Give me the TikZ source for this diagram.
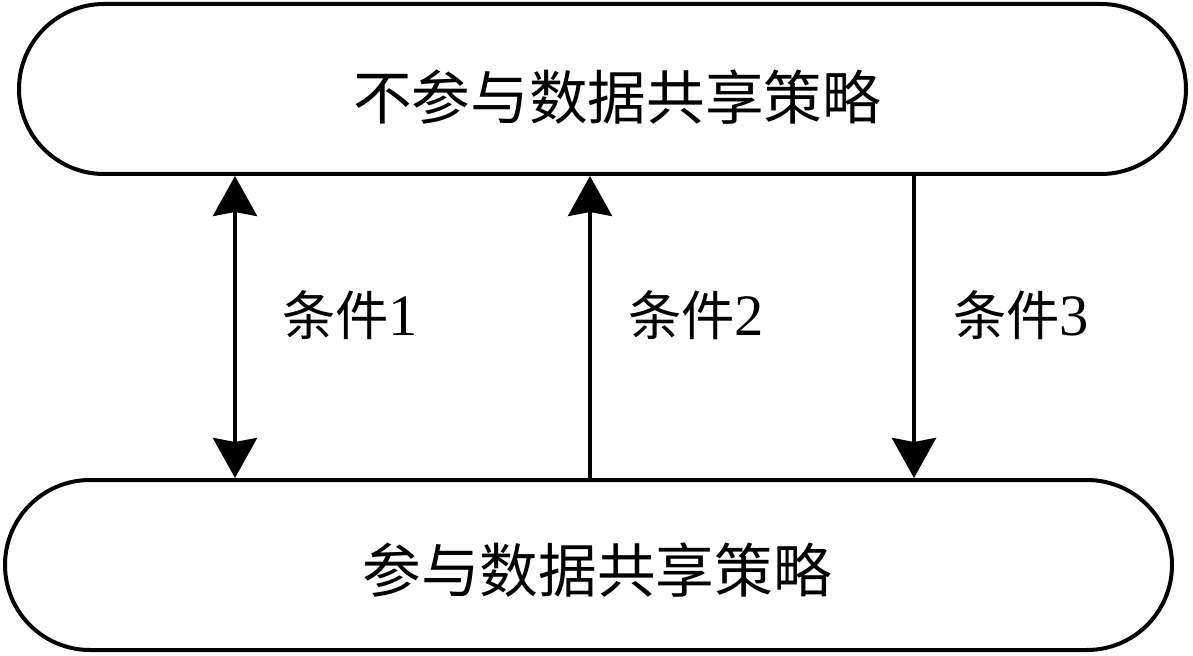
\documentclass[tikz,border=0pt]{standalone}
\usepackage{fontspec}
\setmainfont{Liberation Serif}
\newfontfamily\cjk{Noto Sans CJK SC}
\usetikzlibrary{arrows.meta,shapes.misc,positioning}

\tikzset{
    strategy/.style={rounded rectangle, draw, line width=3pt,
        minimum width=875.25pt, minimum height=127.5pt, inner sep=0pt},
    strategytext/.style={font=\fontsize{44}{44}\selectfont\cjk, inner sep=0pt},
    condtext/.style={font=\fontsize{40}{40}\selectfont, inner sep=0pt},
    flow/.style={line width=3pt, >={Stealth[length=30pt, width=33pt, inset=3pt]}},
}
\newcommand{\condlabel}[1]{{\cjk 条件}{\fontsize{44}{44}\selectfont #1}}

\begin{document}
\begin{tikzpicture}[x=0.75pt, y=-0.75pt]
    \useasboundingbox (0,0) rectangle (1193,656);

    \node[strategy] (out) at (602.5,89) {};
    \node[strategy] (in) at (588.5,565) {};
    \node[strategytext] (outname) at (617,97) {不参与数据共享策略};
    \node[strategytext] (inname) at (597,570) {参与数据共享策略};

    \coordinate (c1) at (235,0);
    \coordinate (c2) at (590,0);
    \coordinate (c3) at (914,0);

    \draw[flow, <->] (in.north -| c1) -- (out.south -| c1);
    \draw[flow, ->] (in.north -| c2) -- (out.south -| c2);
    \draw[flow, ->] (out.south -| c3) -- (in.north -| c3);

    \node[condtext] (cond1) at (350,315) {\condlabel{1}};
    \node[condtext] (cond2) at (696,315) {\condlabel{2}};
    \node[condtext] (cond3) at (1021,315) {\condlabel{3}};
\end{tikzpicture}
\end{document}
